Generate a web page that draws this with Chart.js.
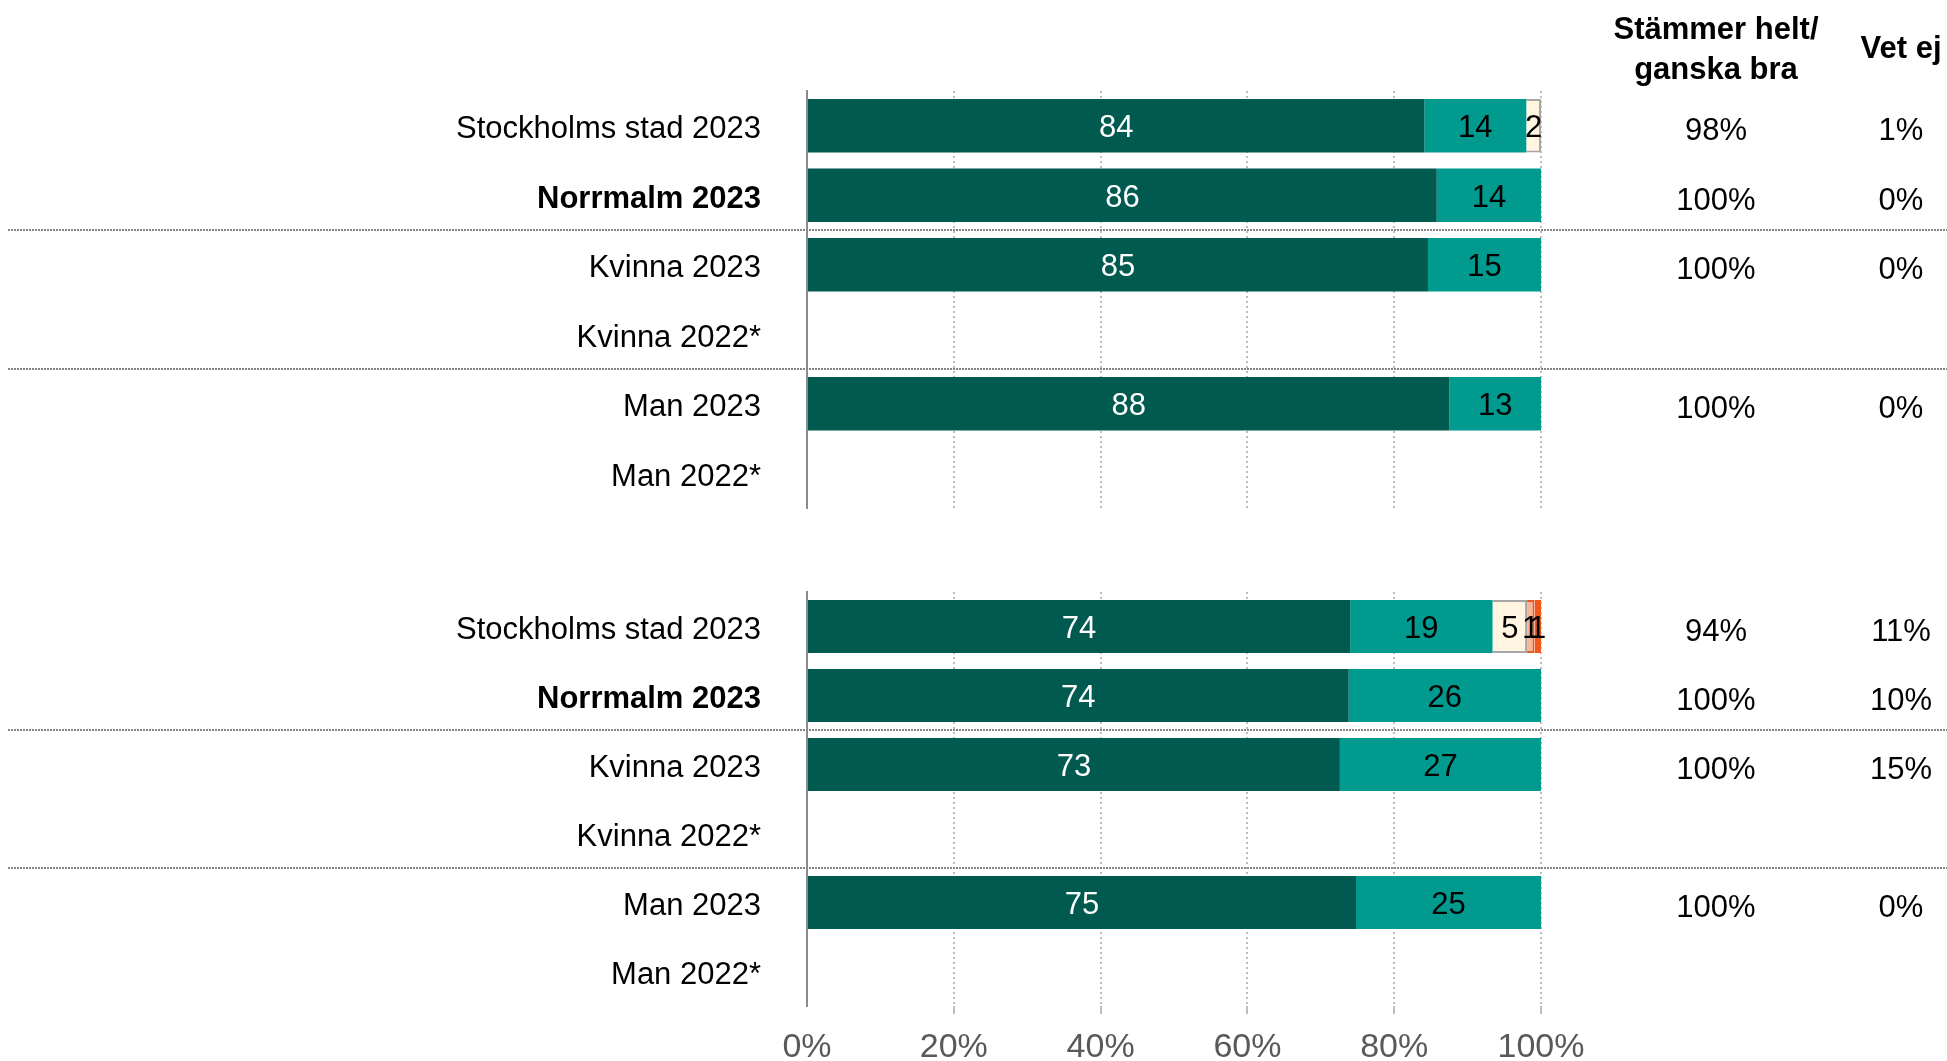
<!DOCTYPE html>
<html>
<head>
<meta charset="utf-8">
<script src="https://cdn.jsdelivr.net/npm/chart.js@4.4.0/dist/chart.umd.min.js"></script>
<style>
  body { margin: 0; background: #fff; }
  .wrap { position: relative; width: 1947px; height: 1061px; }
  canvas { position: absolute; left: 0; }
  #topChart { top: 0; }
  #bottomChart { top: 530px; }
</style>
</head>
<body>
<div class="wrap">
  <canvas id="topChart" width="1947" height="530"></canvas>
  <canvas id="bottomChart" width="1947" height="531"></canvas>
</div>
<script>
'use strict';

// Row labels shared by both panels
const rowLabels = ['Stockholms stad 2023', 'Norrmalm 2023', 'Kvinna 2023', 'Kvinna 2022*', 'Man 2023', 'Man 2022*'];
const seriesNames = ['Stämmer helt', 'Stämmer ganska bra', 'Stämmer ganska dåligt', 'Stämmer mycket dåligt', 'Stämmer inte alls'];
const seriesColors = ['#005A4F', '#009A8E', '#FFF5E1', '#F8B496', '#EE5A1E'];
const seriesBorders = ['#005A4F', '#009A8E', '#A6A6A6', '#EE5A1E', '#EE5A1E'];
const xTicks = [0, 20, 40, 60, 80, 100];

// Top panel values (percent)
const topHelt = [84.1, 85.8, 84.6, null, 87.5, null];
const topGanskaBra = [13.9, 14.2, 15.4, null, 12.5, null];
const topGanskaDaligt = [2.0, 0, 0, null, 0, null];
const topMycketDaligt = [0, 0, 0, null, 0, null];
const topInteAlls = [0, 0, 0, null, 0, null];
const topPositive = ['98%', '100%', '100%', '', '100%', ''];
const topVetEj = ['1%', '0%', '0%', '', '0%', ''];

// Bottom panel values (percent)
const botHelt = [74.0, 73.8, 72.6, null, 74.8, null];
const botGanskaBra = [19.4, 26.2, 27.4, null, 25.2, null];
const botGanskaDaligt = [4.7, 0, 0, null, 0, null];
const botMycketDaligt = [1.0, 0, 0, null, 0, null];
const botInteAlls = [0.9, 0, 0, null, 0, null];
const botPositive = ['94%', '100%', '100%', '', '100%', ''];
const botVetEj = ['11%', '10%', '15%', '', '0%', ''];

const headerLines = ['Stämmer helt/', 'ganska bra'];
const headerVetEj = 'Vet ej';

const FONT = "'Liberation Sans', Arial, sans-serif";
const PLOT_LEFT = 807;
const COL1_X = 1716;
const COL2_X = 1901;

// Values written in the middle of each bar segment
const segmentLabels = {
  id: 'segmentLabels',
  afterDatasetsDraw(chart) {
    const ctx = chart.ctx;
    ctx.save();
    ctx.font = '31px ' + FONT;
    ctx.textAlign = 'center';
    ctx.textBaseline = 'middle';
    chart.data.datasets.forEach((ds, di) => {
      const meta = chart.getDatasetMeta(di);
      meta.data.forEach((el, i) => {
        const v = ds.data[i];
        if (!v) return;
        ctx.fillStyle = di === 0 ? '#fff' : '#000';
        ctx.fillText(String(Math.round(v)), (el.x + el.base) / 2, el.y + 3);
      });
    });
    ctx.restore();
  }
};

// Dotted separators, right-hand columns, header
const extras = {
  id: 'extras',
  beforeDatasetsDraw(chart) {
    const y = chart.scales.y;
    const ctx = chart.ctx;
    ctx.save();
    ctx.strokeStyle = '#858585';
    ctx.lineWidth = 2;
    ctx.setLineDash([2, 1]);
    [[1, 2], [3, 4]].forEach(([a, b]) => {
      const yy = Math.round((y.getPixelForValue(a) + y.getPixelForValue(b)) / 2);
      ctx.beginPath();
      ctx.moveTo(8, yy);
      ctx.lineTo(1947, yy);
      ctx.stroke();
    });
    ctx.restore();
  },
  afterDraw(chart, args, opts) {
    const y = chart.scales.y;
    const ctx = chart.ctx;
    ctx.save();
    ctx.fillStyle = '#000';
    ctx.textAlign = 'center';
    ctx.textBaseline = 'middle';
    ctx.font = '31px ' + FONT;
    opts.positive.forEach((t, i) => {
      if (t) ctx.fillText(t, COL1_X, y.getPixelForValue(i) + 6);
    });
    opts.vetEj.forEach((t, i) => {
      if (t) ctx.fillText(t, COL2_X, y.getPixelForValue(i) + 6);
    });
    if (opts.header) {
      ctx.font = 'bold 31px ' + FONT;
      ctx.fillText(headerLines[0], COL1_X, 30);
      ctx.fillText(headerLines[1], COL1_X, 70);
      ctx.fillText(headerVetEj, COL2_X, 49);
    }
    ctx.restore();
  }
};

function makeChart(id, series, positive, vetEj, isTop) {
  const datasets = series.map((data, i) => ({
    label: seriesNames[i],
    data: data,
    backgroundColor: seriesColors[i],
    borderColor: seriesBorders[i],
    borderWidth: i >= 2 ? 2 : 0,
    barPercentage: 0.77,
    categoryPercentage: 1.0,
  }));
  return new Chart(document.getElementById(id), {
    type: 'bar',
    data: { labels: rowLabels, datasets },
    plugins: [segmentLabels, extras],
    options: {
      responsive: false,
      animation: false,
      indexAxis: 'y',
      layout: {
        padding: isTop
          ? { top: 91, bottom: 22, left: 0, right: 406 }
          : { top: 62, bottom: 0, left: 0, right: 406 },
      },
      plugins: {
        legend: { display: false },
        tooltip: { enabled: false },
        extras: { positive, vetEj, header: isTop },
      },
      scales: {
        x: {
          stacked: true,
          min: 0,
          max: 100,
          afterBuildTicks: scale => {
            scale.ticks = xTicks.map(v => ({ value: v }));
          },
          afterFit: scale => {
            scale.height = isTop ? 0 : 55;
            scale.paddingLeft = 0;
            scale.paddingRight = 0;
          },
          grid: {
            color: ctx => (ctx.index === 0 ? 'rgba(0,0,0,0)' : '#BDBDBD'),
            lineWidth: 2,
            drawTicks: !isTop,
            tickLength: 8,
          },
          border: { display: false, dash: [2, 3] },
          ticks: {
            display: !isTop,
            padding: 13,
            color: '#595959',
            font: { family: FONT, size: 34 },
            callback: v => v + '%',
            maxRotation: 0,
          },
        },
        y: {
          stacked: true,
          afterFit: scale => {
            scale.width = PLOT_LEFT;
            scale.paddingTop = 0;
            scale.paddingBottom = 0;
          },
          grid: { display: false, drawTicks: false },
          border: { display: true, color: '#8C8C8C', width: 2 },
          ticks: {
            padding: 46,
            labelOffset: 4,
            color: '#000',
            font: ctx => ({
              family: FONT,
              size: 31,
              weight: ctx.index === 1 ? 'bold' : 'normal',
            }),
          },
        },
      },
    },
  });
}

makeChart('topChart',
  [topHelt, topGanskaBra, topGanskaDaligt, topMycketDaligt, topInteAlls],
  topPositive, topVetEj, true);
makeChart('bottomChart',
  [botHelt, botGanskaBra, botGanskaDaligt, botMycketDaligt, botInteAlls],
  botPositive, botVetEj, false);
</script>
</body>
</html>
